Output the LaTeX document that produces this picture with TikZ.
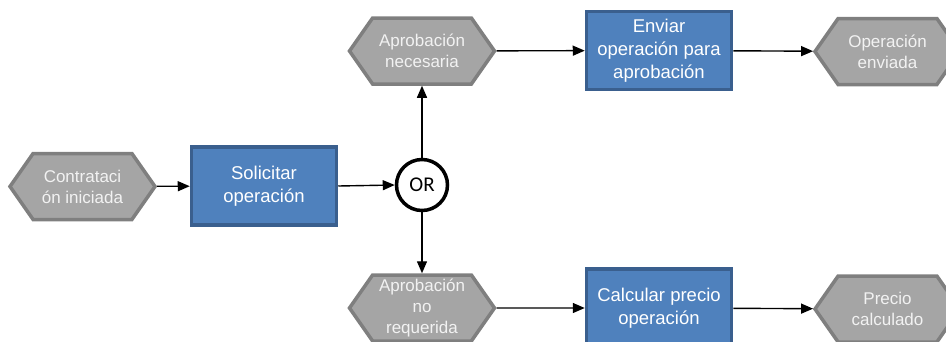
\documentclass[tikz,border=0pt]{standalone}
\usepackage{fontspec}
\setmainfont{Liberation Sans}
\newfontfamily\orfont{Carlito}
\usetikzlibrary{shapes.symbols,arrows.meta}
\definecolor{evfill}{HTML}{A5A5A5}
\definecolor{evline}{HTML}{7F7F7F}
\definecolor{evtext}{HTML}{F2F2F2}
\definecolor{fnfill}{HTML}{4F81BD}
\definecolor{fnline}{HTML}{3A5F8E}
\begin{document}
\begin{tikzpicture}[x=1pt,y=-1pt,
  event/.style={signal, signal to=east and west, signal pointer angle=110,
    draw=evline, fill=evfill, line width=3.5pt, text=evtext,
    minimum width=145pt, minimum height=66pt, inner sep=0pt, align=center,
    font=\fontsize{17}{21}\selectfont},
  func/.style={rectangle, draw=fnline, fill=fnfill, line width=3.5pt, text=white,
    minimum width=145pt, minimum height=78pt, inner sep=0pt, align=center,
    font=\fontsize{18.5}{23}\selectfont},
  gate/.style={circle, draw=black, fill=white, line width=3.5pt,
    minimum size=51pt, inner sep=0pt, font=\orfont\fontsize{21}{24}\selectfont},
  flow/.style={-{Triangle[length=12pt,width=10pt]}, line width=1.4pt, black}]
\useasboundingbox (0,0) rectangle (946,341);
\clip (0,0) rectangle (946,341);

% events and functions
\node[event] (start) at (82.5,186.5) {Contrataci\\ón iniciada};
\node[func] (solicitar) at (264,186) {Solicitar\\operación};
\node[gate] (or) at (422,185) {OR};
\node[event] (nec) at (422,51) {Aprobación\\necesaria};
\node[func] (enviar) at (659,50.5) {Enviar\\operación para\\aprobación};
\node[event] (enviada) at (887.5,51.5) {Operación\\enviada};
\node[event] (noreq) at (422,308) {Aprobación\\no\\requerida};
\node[func] (calcular) at (659,308) {Calcular precio\\operación};
\node[event] (precio) at (887.5,309) {Precio\\calculado};

% control flow
\draw[flow] (start) -- (solicitar);
\draw[flow] (solicitar.east) -- (or.west);
\draw[flow] (or.north) -- (nec.south);
\draw[flow] (or.south) -- (noreq.north);
\draw[flow] (nec) -- (enviar);
\draw[flow] (enviar) -- (enviada);
\draw[flow] (noreq) -- (calcular);
\draw[flow] (calcular) -- (precio);
\end{tikzpicture}
\end{document}
